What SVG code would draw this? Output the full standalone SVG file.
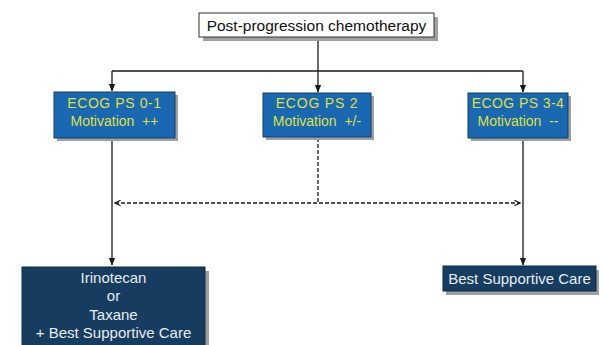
<svg xmlns="http://www.w3.org/2000/svg" width="604" height="345" viewBox="0 0 604 345">
<style>
.txt{font-family:"Liberation Sans",Arial,sans-serif;text-anchor:middle}
.blue{fill:#1a68b2;stroke:#0d3f6e;stroke-width:1}
.navy{fill:#163c60;stroke:#0e2a45;stroke-width:1}
.shadow{fill:#a0a0a0}
.ytxt{fill:#dfe03c;font-size:14px}
.wtxt{fill:#e6ecf2;font-size:15px}
.ln{stroke:#1a1a1a;stroke-width:1.3;fill:none}
.dash{stroke:#1a1a1a;stroke-width:1.3;fill:none;stroke-dasharray:4 2}
</style>
<defs>
<marker id="ah" viewBox="0 0 10 10" refX="9" refY="5" markerWidth="7" markerHeight="7" orient="auto-start-reverse" markerUnits="userSpaceOnUse">
<path d="M1,1 L9,5 L1,9" fill="none" stroke="#1a1a1a" stroke-width="1.6"/>
</marker>
<marker id="ahf" viewBox="0 0 10 10" refX="9" refY="5" markerWidth="8" markerHeight="8" orient="auto" markerUnits="userSpaceOnUse">
<path d="M0,1 L10,5 L0,9 Z" fill="#1a1a1a"/>
</marker>
</defs>
<rect width="604" height="345" fill="#ffffff"/>
<g id="connectors">
<line class="ln" x1="318" y1="37" x2="318" y2="71"/>
<line class="ln" x1="112" y1="71" x2="523" y2="71"/>
<line class="ln" x1="112" y1="71" x2="112" y2="91" marker-end="url(#ahf)"/>
<line class="ln" x1="318" y1="71" x2="318" y2="92" marker-end="url(#ahf)"/>
<line class="ln" x1="523" y1="71" x2="523" y2="92" marker-end="url(#ahf)"/>
<line class="ln" x1="112" y1="138" x2="112" y2="265" marker-end="url(#ahf)"/>
<line class="ln" x1="523" y1="138" x2="523" y2="265" marker-end="url(#ahf)"/>
<line class="dash" x1="318" y1="138" x2="318" y2="203"/>
<line class="dash" x1="115" y1="203" x2="520" y2="203" marker-start="url(#ah)" marker-end="url(#ah)"/>
</g>
<g id="top">
<rect x="203" y="17" width="235" height="24" class="shadow"/>
<rect x="199" y="13" width="235" height="24" fill="#ffffff" stroke="#333" stroke-width="1"/>
<text x="316.5" y="30.5" class="txt" font-size="15.5" fill="#111">Post-progression chemotherapy</text>
</g>
<g id="ps01">
<rect x="57" y="95" width="121" height="46" class="shadow"/>
<rect x="54" y="92" width="121" height="46" class="blue"/>
<text x="114.5" y="108" class="txt ytxt" letter-spacing="0.6">ECOG PS 0-1</text>
<text x="114.5" y="126" class="txt ytxt" xml:space="preserve">Motivation  ++</text>
</g>
<g id="ps2">
<rect x="266" y="96" width="108" height="44" class="shadow"/>
<rect x="263" y="93" width="108" height="44" class="blue"/>
<text x="317" y="108" class="txt ytxt" letter-spacing="0.8">ECOG PS 2</text>
<text x="317" y="126" class="txt ytxt" xml:space="preserve">Motivation  +/-</text>
</g>
<g id="ps34">
<rect x="471" y="96" width="100" height="45" class="shadow"/>
<rect x="468" y="93" width="100" height="45" class="blue"/>
<text x="518" y="108" class="txt ytxt" letter-spacing="0.4">ECOG PS 3-4</text>
<text x="518" y="126" class="txt ytxt" xml:space="preserve">Motivation  --</text>
</g>
<g id="irinotecan">
<rect x="205" y="271" width="4" height="74" class="shadow"/>
<rect x="22" y="267" width="183" height="81" class="navy"/>
<text x="113.5" y="283" class="txt wtxt">Irinotecan</text>
<text x="113.5" y="301" class="txt wtxt">or</text>
<text x="113.5" y="320" class="txt wtxt">Taxane</text>
<text x="113.5" y="338" class="txt wtxt">+ Best Supportive Care</text>
</g>
<g id="bsc">
<rect x="446" y="270" width="153" height="25" class="shadow"/>
<rect x="443" y="266" width="153" height="25" class="navy"/>
<text x="519.5" y="284" class="txt wtxt">Best Supportive Care</text>
</g>
</svg>
